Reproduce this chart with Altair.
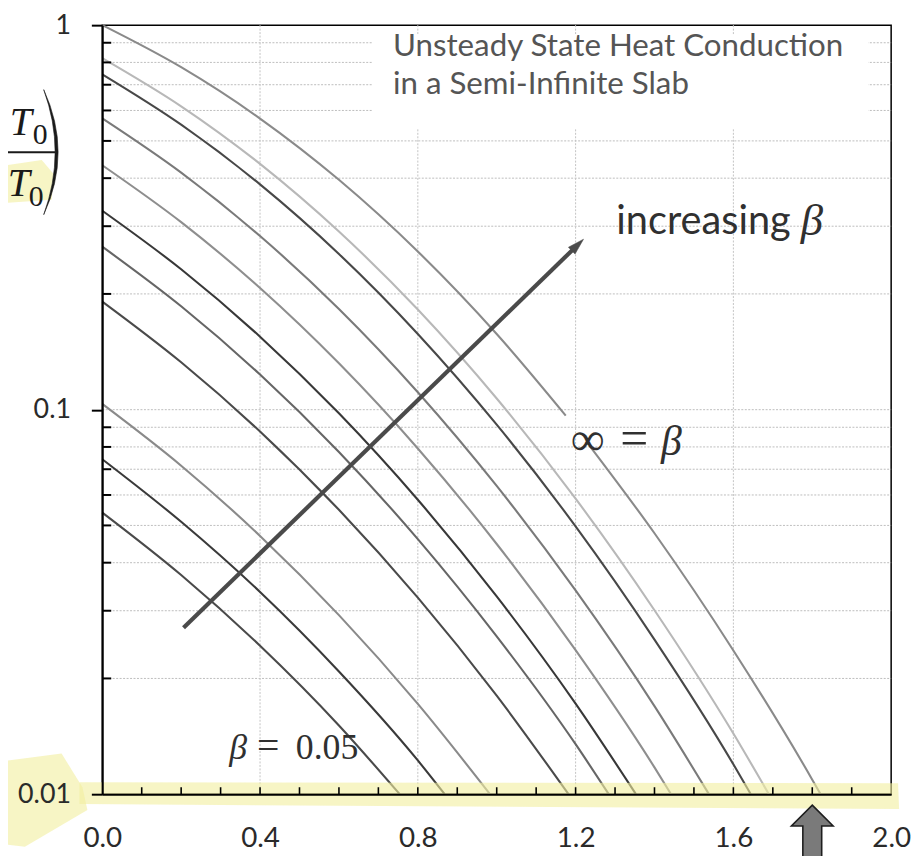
import altair as alt
import pandas as pd

# ---------------- data ----------------
betas = ["inf", "3", "2", "1", "0.6", "0.4", "0.3", "0.2", "0.1", "0.07", "0.05"]
line_colors = ["#8a8a8a", "#b8b8b8", "#484848", "#7a7a7a", "#8e8e8e", "#383838",
               "#666666", "#4a4a4a", "#8a8a8a", "#3a3a3a", "#4a4a4a"]

# each curve given as segments (the beta = inf curve is broken behind its label)
eta_inf_a = [0.0, 0.2, 0.4, 0.6, 0.8, 1.0, 1.175]
theta_inf_a = [1.0, 0.7773, 0.5716, 0.3961, 0.2579, 0.1573, 0.0965]
eta_inf_b = [1.235, 1.4, 1.6, 1.8, 1.821]
theta_inf_b = [0.0807, 0.04771, 0.02365, 0.01091, 0.0100]
eta_b3 = [0.0, 0.2, 0.4, 0.6, 0.8, 1.0, 1.2, 1.4, 1.6, 1.690]
theta_b3 = [0.8210, 0.6152, 0.4357, 0.2906, 0.1821, 0.1069, 0.05870, 0.03009, 0.01438, 0.0100]
eta_b2 = [0.0, 0.2, 0.4, 0.6, 0.8, 1.0, 1.2, 1.4, 1.6, 1.644]
theta_b2 = [0.7446, 0.5509, 0.3854, 0.2541, 0.1574, 0.09145, 0.04971, 0.02524, 0.01196, 0.0100]
eta_b1 = [0.0, 0.2, 0.4, 0.6, 0.8, 1.0, 1.2, 1.4, 1.538]
theta_b1 = [0.5724, 0.4136, 0.2829, 0.1827, 0.1110, 0.06334, 0.03387, 0.01694, 0.0100]
eta_b06 = [0.0, 0.2, 0.4, 0.6, 0.8, 1.0, 1.2, 1.4, 1.442]
theta_b06 = [0.4322, 0.3074, 0.2072, 0.1320, 0.07928, 0.04474, 0.02369, 0.01174, 0.0100]
eta_b04 = [0.0, 0.2, 0.4, 0.6, 0.8, 1.0, 1.2, 1.353]
theta_b04 = [0.3292, 0.2318, 0.1548, 0.09783, 0.05830, 0.03268, 0.01720, 0.0100]
eta_b03 = [0.0, 0.2, 0.4, 0.6, 0.8, 1.0, 1.2, 1.284]
theta_b03 = [0.2654, 0.1857, 0.1234, 0.07763, 0.04607, 0.02573, 0.01349, 0.0100]
eta_b02 = [0.0, 0.2, 0.4, 0.6, 0.8, 1.0, 1.182]
theta_b02 = [0.1910, 0.1328, 0.08776, 0.05491, 0.03244, 0.01804, 0.0100]
eta_b01 = [0.0, 0.2, 0.4, 0.6, 0.8, 0.983]
theta_b01 = [0.1035, 0.07150, 0.04695, 0.02922, 0.01717, 0.0100]
eta_b007 = [0.0, 0.2, 0.4, 0.6, 0.8, 0.868]
theta_b007 = [0.07433, 0.05110, 0.03356, 0.02085, 0.01224, 0.0100]
eta_b005 = [0.0, 0.2, 0.4, 0.6, 0.754]
theta_b005 = [0.05401, 0.03716, 0.02432, 0.01509, 0.0100]

segments = [
    ("inf", "inf_a", eta_inf_a, theta_inf_a),
    ("inf", "inf_b", eta_inf_b, theta_inf_b),
    ("3", "b3", eta_b3, theta_b3),
    ("2", "b2", eta_b2, theta_b2),
    ("1", "b1", eta_b1, theta_b1),
    ("0.6", "b06", eta_b06, theta_b06),
    ("0.4", "b04", eta_b04, theta_b04),
    ("0.3", "b03", eta_b03, theta_b03),
    ("0.2", "b02", eta_b02, theta_b02),
    ("0.1", "b01", eta_b01, theta_b01),
    ("0.07", "b007", eta_b007, theta_b007),
    ("0.05", "b005", eta_b005, theta_b005),
]

x_labels = [0.0, 0.4, 0.8, 1.2, 1.6, 2.0]
y_labels = [0.01, 0.1, 1.0]
x_minor = [0.1, 0.2, 0.3, 0.4, 0.5, 0.6, 0.7, 0.8, 0.9, 1.0,
           1.1, 1.2, 1.3, 1.4, 1.5, 1.6, 1.7, 1.8, 1.9]
y_minor = [0.02, 0.03, 0.04, 0.05, 0.06, 0.07, 0.08, 0.09,
           0.2, 0.3, 0.4, 0.5, 0.6, 0.7, 0.8, 0.9]
y_grid = y_minor + [0.1]
x_grid = [0.4, 0.8, 1.2, 1.6]

# annotation geometry (data units)
title_box_x = [0.684, 1.942]
title_box_y = [0.54, 0.945]
arrow_x = [0.206, 1.202]
arrow_y = [0.0271, 0.2662]
arrow_tip = (1.22, 0.2775)
bottom_arrow_x = 1.80

# ---------------- layout ----------------
W, H = 795, 775
xscale = alt.Scale(domain=[0, 2], nice=False, zero=False)
yscale = alt.Scale(type="log", domain=[0.01, 1], nice=False)

X_AX = alt.Axis(values=x_labels, format=".1f", grid=False, ticks=False, tickSize=0,
                domainColor="black", domainWidth=2, labelFont="Lato",
                labelFontSize=28, labelColor="#2a2a2a", labelPadding=53,
                labelBaseline="alphabetic", labelFlush=False, title=None, zindex=1)
Y_AX = alt.Axis(values=y_labels, format="~g", grid=False, ticks=True, tickSize=11,
                tickWidth=2, tickColor="black", domainColor="black",
                domainWidth=2, labelFont="Lato", labelFontSize=27,
                labelColor="#2a2a2a", labelPadding=21, title=None,
                labelOverlap=False, zindex=1)


def xq(f):
    return alt.X(f, type="quantitative", scale=xscale, axis=X_AX)


def yq(f):
    return alt.Y(f, type="quantitative", scale=yscale, axis=Y_AX)


rows = []
for beta, seg, xs, ys in segments:
    for xv, yv in zip(xs, ys):
        rows.append({"beta": beta, "seg": seg, "x": xv, "y": yv})
df = pd.DataFrame(rows)

one = pd.DataFrame({"a": [0]})

# grid
hgrid = alt.Chart(pd.DataFrame({"v": y_grid})).mark_rule(
    color="#bdbdbd", strokeWidth=1, strokeDash=[2, 1.5]
).encode(y=yq("v"), x=alt.value(0), x2=alt.value(W))
vgrid = alt.Chart(pd.DataFrame({"v": x_grid})).mark_rule(
    color="#c4c4c4", strokeWidth=1, strokeDash=[2, 1.5]
).encode(x=xq("v"), y=alt.value(0), y2=alt.value(H))

box = alt.Chart(pd.DataFrame({"x1": [title_box_x[0]], "x2": [title_box_x[1]],
                              "y1": [title_box_y[0]], "y2": [title_box_y[1]]})).mark_rect(
    color="white"
).encode(x=xq("x1"), x2="x2:Q", y=yq("y1"), y2="y2:Q")

curves = alt.Chart(df).mark_line(interpolate="monotone", strokeWidth=2.1).encode(
    x=xq("x"),
    y=yq("y"),
    color=alt.Color("beta:N", scale=alt.Scale(domain=betas, range=line_colors), legend=None),
    detail="seg:N",
    order="x:Q",
)

# inward minor ticks
yticks = alt.Chart(pd.DataFrame({"v": y_minor})).mark_rule(color="black", strokeWidth=2).encode(
    y=yq("v"), x=alt.value(0), x2=alt.value(9))
xticks = alt.Chart(pd.DataFrame({"v": x_minor})).mark_rule(color="black", strokeWidth=1.6).encode(
    x=xq("v"), y=alt.value(H), y2=alt.value(H - 7))

# increasing-beta arrow
arrow_line = alt.Chart(pd.DataFrame({"x": arrow_x, "y": arrow_y})).mark_line(
    color="#4a4a4a", strokeWidth=4.2, strokeCap="butt"
).encode(x=xq("x"), y=yq("y"))
arrow_head = alt.Chart(pd.DataFrame({"x": [arrow_tip[0]], "y": [arrow_tip[1]]})).mark_point(
    shape="M0,0 L0.42,1.45 L-0.42,1.45 Z", size=520, filled=True, fill="#4a4a4a",
    stroke="#4a4a4a", strokeWidth=0.5, opacity=1, angle=45.8
).encode(x=xq("x"), y=yq("y"))

# highlighter marks (pixel paths relative to the page corner)
OX, OY = -103, -22
hl_band = "M80,785 L905,786 L906,812 L80,807 Z"
hl_blob = "M8,763 L62,756 L83,790 L88,813 L25,850 L8,848 Z"
hl_den = "M8,163 L42,158 L54,172 L52,198 L8,201 Z"
highlights = [
    alt.Chart(one).mark_point(shape=p, size=4, filled=True, fill="#f1ee9e", stroke="#f1ee9e",
                              strokeWidth=0, opacity=0.6).encode(x=alt.value(OX), y=alt.value(OY))
    for p in (hl_band, hl_blob, hl_den)
]

bottom_arrow = alt.Chart(pd.DataFrame({"x": [bottom_arrow_x]})).mark_point(
    shape="M0,-24 L21,-3 L9.5,-3 L9.5,34 L-9.5,34 L-9.5,-3 L-21,-3 Z", size=4, filled=True,
    fill="#7a7a7a", stroke="#1e1e1e", strokeWidth=1.6, opacity=1
).encode(x=xq("x"), y=alt.value(H + 35))

paren = alt.Chart(one).mark_point(
    shape="M44,87 Q73,150 44,213 Q67,150 44,87 Z", size=4, filled=True, fill="#1a1a1a",
    stroke="#1a1a1a", strokeWidth=0.6, opacity=1
).encode(x=alt.value(OX), y=alt.value(OY))
frac_bar = alt.Chart(one).mark_rule(color="#1a1a1a", strokeWidth=2).encode(
    x=alt.value(OX + 8), x2=alt.value(OX + 56), y=alt.value(OY + 150), y2=alt.value(OY + 150))


def txt(s, px, py, size, font="Lato", color="#222222", style="normal", align="left"):
    return alt.Chart(pd.DataFrame({"t": [s]})).mark_text(
        font=font, fontSize=size, color=color, fontStyle=style, align=align,
        baseline="alphabetic"
    ).encode(x=alt.value(px + OX), y=alt.value(py + OY), text="t:N")


SERIF = "Liberation Serif"
texts = [
    txt("Unsteady State Heat Conduction", 396, 53, 31.5, color="#555555"),
    txt("in a Semi-Infinite Slab", 396, 91, 31.5, color="#555555"),
    txt("increasing", 621, 232, 40, color="#303030"),
    txt("β", 807, 233, 45, font=SERIF, color="#303030", style="italic"),
    txt("∞", 575, 455, 48, font=SERIF, color="#303030"),
    txt("=", 625, 455, 50, font=SERIF, color="#303030"),
    txt("β", 666, 455, 42, font=SERIF, color="#303030", style="italic"),
    txt("β", 231, 762, 36, font=SERIF, color="#303030", style="italic"),
    txt("=", 259, 762, 40, font=SERIF, color="#303030"),
    txt("0.05", 298, 762, 36, font=SERIF, color="#303030"),
    txt("T", 32, 133, 40, font=SERIF, color="#1a1a1a", style="italic", align="right"),
    txt("0", 33, 142, 30, font=SERIF, color="#1a1a1a"),
    txt("T", 30, 194, 40, font=SERIF, color="#1a1a1a", style="italic", align="right"),
    txt("0", 29, 204, 30, font=SERIF, color="#1a1a1a"),
]

chart = alt.layer(
    hgrid, vgrid, box, curves, *highlights, yticks, xticks, arrow_line, arrow_head,
    bottom_arrow, paren, frac_bar, *texts
).properties(
    width=W, height=H,
    background="white",
    autosize=alt.AutoSizeParams(type="none"),
    padding={"left": 95, "top": 14, "right": 20, "bottom": 59},
).configure_view(stroke="black", strokeWidth=1.5)

chart.save("out.html", embed_options={"renderer": "svg", "actions": False})
